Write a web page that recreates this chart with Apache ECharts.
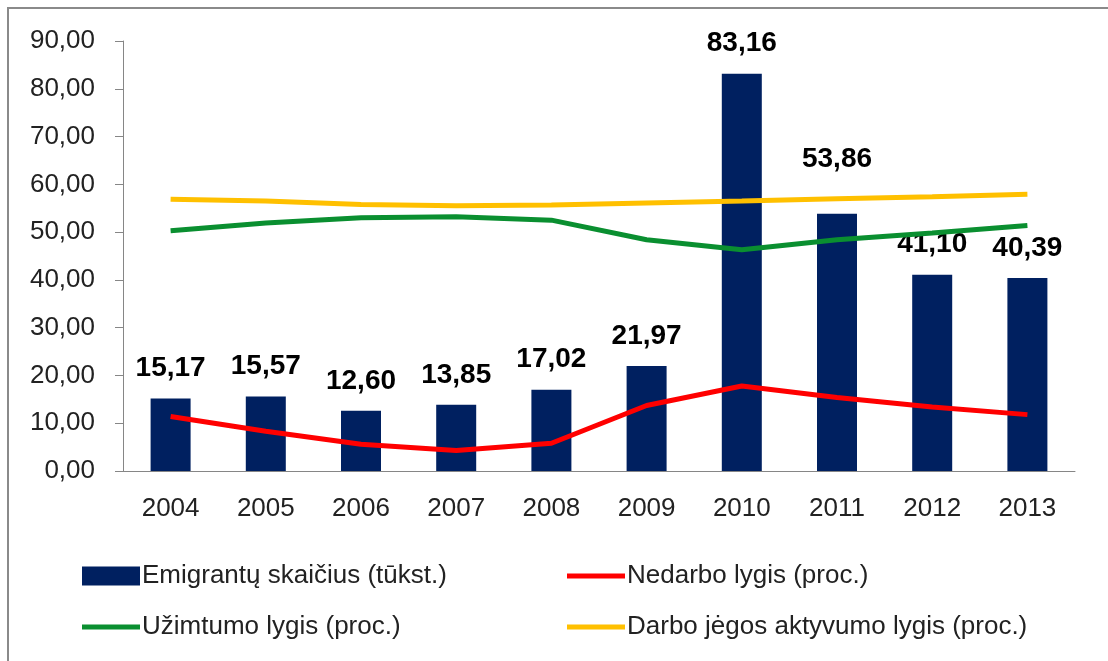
<!DOCTYPE html>
<html>
<head>
<meta charset="utf-8">
<style>
  html, body { margin: 0; padding: 0; background: #fff; }
  #chart { width: 1108px; height: 661px; }
</style>
<script src="https://cdn.jsdelivr.net/npm/echarts@6/dist/echarts.min.js"></script>
</head>
<body>
<div id="chart"></div>
<script>
var years = ['2004', '2005', '2006', '2007', '2008', '2009', '2010', '2011', '2012', '2013'];
var emigrants = [15.17, 15.57, 12.60, 13.85, 17.02, 21.97, 83.16, 53.86, 41.10, 40.39];
var unemployment = [11.4, 8.3, 5.6, 4.3, 5.8, 13.7, 17.8, 15.4, 13.4, 11.8];
var employment = [50.3, 51.9, 53.0, 53.2, 52.5, 48.4, 46.3, 48.4, 49.8, 51.4];
var activity = [56.9, 56.5, 55.8, 55.5, 55.7, 56.1, 56.5, 57.0, 57.4, 57.9];
var names = ['Emigrantų skaičius (tūkst.)', 'Nedarbo lygis (proc.)', 'Užimtumo lygis (proc.)', 'Darbo jėgos aktyvumo lygis (proc.)'];

var font = 'Liberation Sans';
var myChart = echarts.init(document.getElementById('chart'));

function fmt(v) {
    return Number(v).toFixed(2).replace('.', ',');
}

// 2011 label sits higher in the original, above the green line
var barData = emigrants.map(function(v, i) {
    if (i === 7) return {value: v, label: {offset: [0, -24]}};
    return v;
});

// one legend per entry so each can sit at its own spot
function legendItem(name, left, centerY, h) {
    return {
        data: [{name: name, icon: 'rect'}],
        left: left,
        top: centerY - 15,
        height: 30,
        padding: 0,
        itemWidth: 58,
        itemHeight: h,
        itemGap: 2,
        textStyle: {fontFamily: font, fontSize: 26, color: '#222', padding: [0, 0, 0, -3]}
    };
}

var option = {
    animation: false,
    grid: {left: 123, right: 33, top: 41, bottom: 190},
    graphic: [{
        type: 'rect',
        shape: {x: 8, y: 8, width: 1300, height: 900},
        style: {fill: 'none', stroke: '#8a8a8a', lineWidth: 2}
    }],
    legend: [
        legendItem(names[0], 82, 578, 19),
        legendItem(names[1], 567, 578, 5),
        legendItem(names[2], 82, 629, 5),
        legendItem(names[3], 567, 629, 5)
    ],
    xAxis: {
        type: 'category',
        data: years,
        axisLine: {lineStyle: {color: '#868686'}},
        axisTick: {length: 10, lineStyle: {color: '#868686'}},
        axisLabel: {fontFamily: font, fontSize: 26, color: '#222', margin: 25}
    },
    yAxis: {
        type: 'value',
        min: 0,
        max: 90,
        interval: 10,
        axisLine: {show: true, lineStyle: {color: '#868686'}},
        axisTick: {show: true, length: 8, lineStyle: {color: '#868686'}},
        splitLine: {show: false},
        axisLabel: {fontFamily: font, fontSize: 26, color: '#222', margin: 28, formatter: fmt}
    },
    series: [
        {
            name: names[0],
            type: 'bar',
            data: barData,
            barWidth: 40,
            itemStyle: {color: '#002060'},
            label: {
                show: true,
                position: 'top',
                distance: 16,
                fontFamily: font,
                fontSize: 28,
                fontWeight: 'bold',
                color: '#000',
                formatter: function(p) { return fmt(p.value); }
            }
        },
        {
            name: names[1],
            type: 'line',
            data: unemployment,
            symbol: 'none',
            lineStyle: {color: '#ff0000', width: 5},
            itemStyle: {color: '#ff0000'}
        },
        {
            name: names[2],
            type: 'line',
            data: employment,
            symbol: 'none',
            lineStyle: {color: '#0a8f30', width: 5},
            itemStyle: {color: '#0a8f30'}
        },
        {
            name: names[3],
            type: 'line',
            data: activity,
            symbol: 'none',
            lineStyle: {color: '#ffc000', width: 5},
            itemStyle: {color: '#ffc000'}
        }
    ]
};

myChart.setOption(option);
</script>
</body>
</html>
